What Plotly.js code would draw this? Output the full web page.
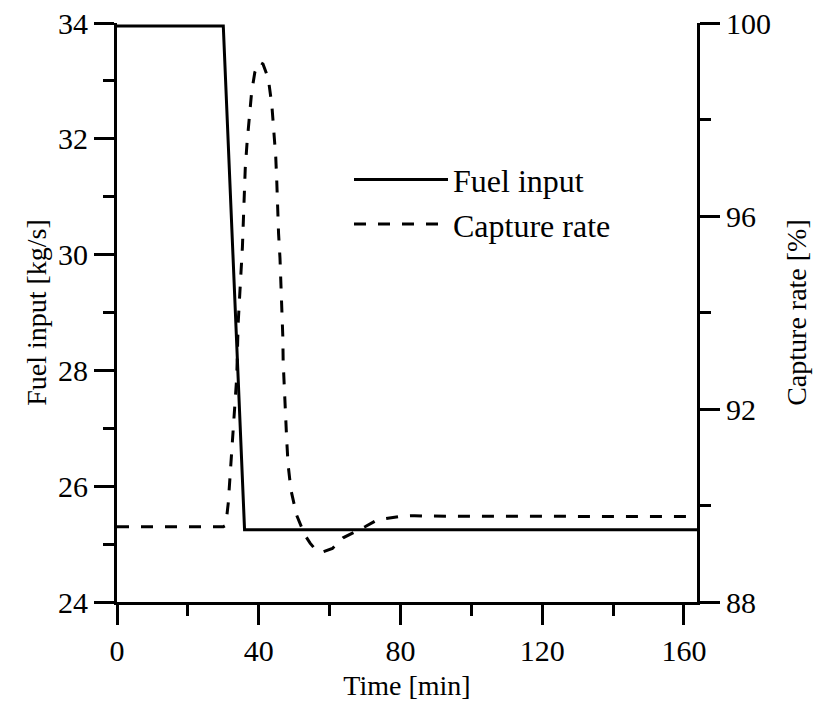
<!DOCTYPE html>
<html>
<head>
<meta charset="utf-8">
<script src="https://cdn.plot.ly/plotly-3.0.1.min.js"></script>
<style>html,body{margin:0;padding:0;background:#fff;}#chart{width:823px;height:705px;}</style>
</head>
<body>
<div id="chart"></div>
<script>
// Fuel input [kg/s]
var fuelTime = [0, 30, 36, 163.7];
var fuelInput = [33.95, 33.95, 25.25, 25.25];

// Capture rate [%]
var captureTime = [0, 30.0, 30.5, 30.9, 31.4, 31.9, 32.4, 32.8, 33.3, 33.8, 34.2, 34.7, 35.0, 35.4, 35.6, 35.9, 36.2, 36.7, 37.3, 38.0, 38.9, 40.3, 41.2, 42.7, 43.7, 44.3, 44.8, 45.1, 45.3, 45.6, 46.0, 46.3, 46.5, 46.8, 46.9, 47.2, 47.6, 47.9, 48.3, 49.1, 50.7, 53.0, 54.5, 56.0, 57.8, 60.8, 63.8, 66.6, 70.0, 73.4, 77.0, 80.3, 84.0, 88.0, 163.7];
var captureRate = [89.56, 89.56, 89.58, 89.72, 90.05, 90.57, 91.11, 91.63, 92.18, 92.67, 93.78, 94.32, 94.84, 95.36, 95.91, 96.43, 96.99, 97.51, 98.05, 98.57, 98.98, 99.19, 99.15, 98.85, 98.30, 97.78, 97.23, 96.71, 96.19, 95.64, 95.13, 94.61, 94.05, 93.50, 92.98, 92.43, 91.92, 91.36, 90.84, 90.32, 89.80, 89.39, 89.22, 89.09, 89.03, 89.11, 89.33, 89.43, 89.56, 89.70, 89.75, 89.78, 89.79, 89.78, 89.77];

var xTicks = [0, 40, 80, 120, 160];
var yTicks = [24, 26, 28, 30, 32, 34];
var y2Ticks = [88, 92, 96, 100];

var fontFam = 'Liberation Serif, Times New Roman, serif';

var traces = [
  {x: fuelTime, y: fuelInput, name: 'Fuel input', type: 'scatter', mode: 'lines',
   line: {color: '#000', width: 3}, yaxis: 'y'},
  {x: captureTime, y: captureRate, name: 'Capture rate', type: 'scatter', mode: 'lines',
   line: {color: '#000', width: 3, dash: '12px,12px'}, yaxis: 'y2'}
];

var axCommon = {
  showgrid: false, zeroline: false, showline: true, linecolor: '#000', linewidth: 3,
  ticks: 'outside', ticklen: 20, tickwidth: 3, tickcolor: '#000',
  tickfont: {family: fontFam, size: 30, color: '#000'}
};

var layout = {
  width: 823, height: 705,
  margin: {l: 117, r: 126, t: 23, b: 103, pad: 0},
  paper_bgcolor: '#fff', plot_bgcolor: '#fff',
  font: {family: fontFam, color: '#000'},
  showlegend: true,
  legend: {x: 0.40, y: 0.777, xanchor: 'left', yanchor: 'top', bgcolor: 'rgba(0,0,0,0)',
    font: {family: fontFam, size: 32, color: '#000'}, itemwidth: 94, tracegroupgap: 0},
  xaxis: Object.assign({}, axCommon, {
    range: [0, 163.7], tickvals: xTicks, ticktext: xTicks.map(String),
    minor: {dtick: 20, ticks: 'outside', ticklen: 11, tickwidth: 3, tickcolor: '#000', showgrid: false},
    title: {text: 'Time [min]', font: {family: fontFam, size: 28, color: '#000'}, standoff: 10}
  }),
  yaxis: Object.assign({}, axCommon, {
    range: [24, 34], tickvals: yTicks, ticktext: yTicks.map(String),
    minor: {dtick: 1, ticks: 'outside', ticklen: 11, tickwidth: 3, tickcolor: '#000', showgrid: false},
    title: {text: 'Fuel input [kg/s]', font: {family: fontFam, size: 28, color: '#000'}, standoff: 4}
  }),
  yaxis2: Object.assign({}, axCommon, {
    range: [88, 100], tickvals: y2Ticks, ticktext: y2Ticks.map(String), overlaying: 'y', side: 'right',
    minor: {dtick: 2, ticks: 'outside', ticklen: 11, tickwidth: 3, tickcolor: '#000', showgrid: false},
    title: {text: 'Capture rate [%]', font: {family: fontFam, size: 28, color: '#000'}, standoff: 17}
  })
};

Plotly.newPlot('chart', traces, layout, {displayModeBar: false, staticPlot: true});
</script>
</body>
</html>
